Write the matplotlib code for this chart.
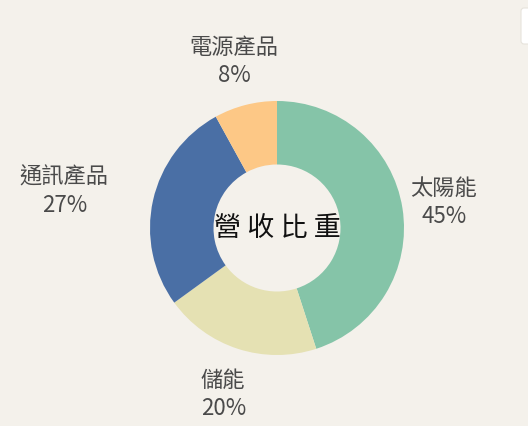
import matplotlib
matplotlib.use("Agg")
import matplotlib.pyplot as plt
import numpy as np
from matplotlib.patches import FancyBboxPatch

plt.rcParams['font.family'] = ['Noto Sans CJK TC', 'DejaVu Sans']

categories = ['太陽能', '儲能', '通訊產品', '電源產品']
values = [45, 20, 27, 8]
colors = ['#85c4a8', '#e5e1b3', '#4a6fa5', '#fdc886']
center_title = '營收比重'

W, H = 528, 427
fig = plt.figure(figsize=(W / 100, H / 100), dpi=100)
fig.patch.set_facecolor('#f4f1eb')
ax = fig.add_axes([0, 0, 1, 1])
ax.set_facecolor('#f4f1eb')

cx, cy, R = 277, H - 229, 127
wedges, _ = ax.pie(values, colors=colors, startangle=90, counterclock=False,
                   radius=R, center=(cx, cy), frame=True,
                   wedgeprops=dict(width=R * 0.5, linewidth=0))
ax.set_xlim(0, W)
ax.set_ylim(0, H)
ax.set_aspect('equal')
ax.axis('off')

# label placement (distance in radii, angle tweak in degrees)
place = [(1.33, 0.0), (1.37, 0.0), (1.70, 2.6), (1.36, 0.0)]
total = sum(values)
start = 90.0
for cat, v, (d, da) in zip(categories, values, place):
    mid = start - v / total * 360 / 2
    start -= v / total * 360
    a = np.deg2rad(mid + da)
    x = cx + d * R * np.cos(a)
    y = cy + d * R * np.sin(a)
    ax.text(x, y + 14, cat, ha='center', va='center', fontsize=16, color='#4a4a4a')
    ax.text(x, y - 14, f'{v}%', ha='center', va='center', fontsize=16, color='#4a4a4a')

ax.text(cx, cy, ' '.join(center_title), ha='center', va='center', fontsize=19.5, color='#111111')

# small white box at top right
box = FancyBboxPatch((521, H - 45), 20, 36, boxstyle='round,pad=0,rounding_size=3',
                     facecolor='white', edgecolor='#e6e3dc', linewidth=0.8, clip_on=False)
ax.add_patch(box)

fig.savefig('out.png', dpi=100, facecolor=fig.get_facecolor())
